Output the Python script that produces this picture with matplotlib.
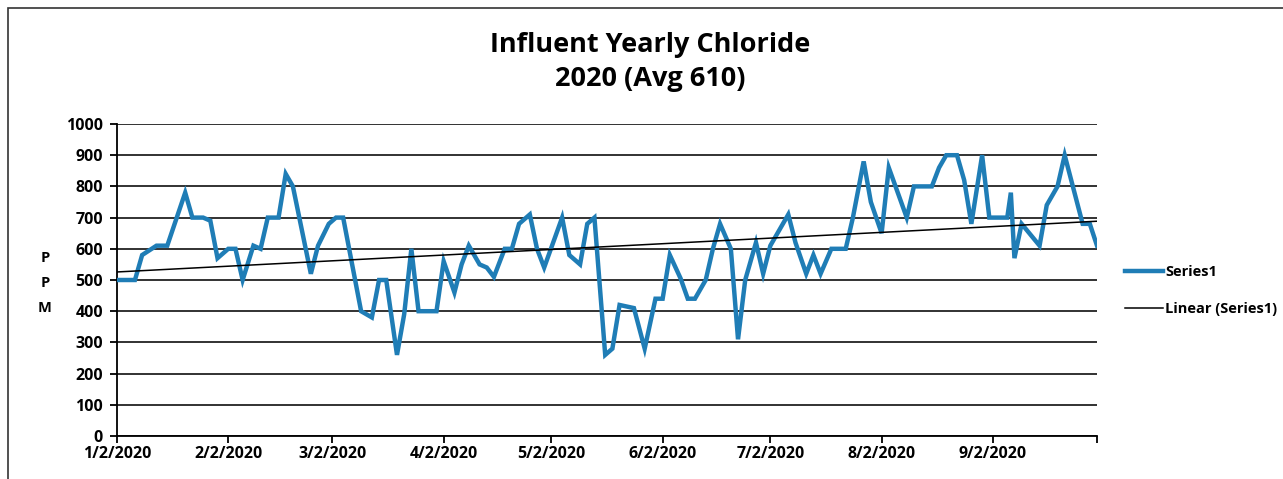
import matplotlib
matplotlib.use("Agg")
import matplotlib.pyplot as plt
import matplotlib.dates as mdates
from matplotlib.patches import Rectangle
import numpy as np
import pandas as pd

sample_dates = [
    "2020-01-02", "2020-01-07", "2020-01-09", "2020-01-13", "2020-01-16", "2020-01-21",
    "2020-01-23", "2020-01-26", "2020-01-28", "2020-01-30", "2020-02-02", "2020-02-04",
    "2020-02-06", "2020-02-09", "2020-02-11", "2020-02-13", "2020-02-16", "2020-02-18",
    "2020-02-20", "2020-02-25", "2020-02-27", "2020-03-01", "2020-03-03", "2020-03-05",
    "2020-03-10", "2020-03-13", "2020-03-15", "2020-03-17", "2020-03-20", "2020-03-22",
    "2020-03-24", "2020-03-26", "2020-03-31", "2020-04-02", "2020-04-05", "2020-04-07",
    "2020-04-09", "2020-04-12", "2020-04-14", "2020-04-16", "2020-04-19", "2020-04-21",
    "2020-04-23", "2020-04-26", "2020-04-28", "2020-04-30", "2020-05-05", "2020-05-07",
    "2020-05-10", "2020-05-12", "2020-05-14", "2020-05-17", "2020-05-19", "2020-05-21",
    "2020-05-25", "2020-05-28", "2020-05-31", "2020-06-02", "2020-06-04", "2020-06-07",
    "2020-06-09", "2020-06-11", "2020-06-14", "2020-06-16", "2020-06-18", "2020-06-21",
    "2020-06-23", "2020-06-25", "2020-06-28", "2020-06-30", "2020-07-02", "2020-07-04",
    "2020-07-07", "2020-07-09", "2020-07-12", "2020-07-14", "2020-07-16", "2020-07-19",
    "2020-07-23", "2020-07-25", "2020-07-28", "2020-07-30", "2020-08-02", "2020-08-04",
    "2020-08-09", "2020-08-11", "2020-08-16", "2020-08-18", "2020-08-20", "2020-08-23",
    "2020-08-25", "2020-08-27", "2020-08-30", "2020-09-01", "2020-09-06", "2020-09-07",
    "2020-09-08", "2020-09-10", "2020-09-15", "2020-09-17", "2020-09-20", "2020-09-22",
    "2020-09-27", "2020-09-29", "2020-10-01",
]
chloride_ppm = [
    500, 500, 580, 610, 610, 780,
    700, 700, 690, 570, 600, 600,
    500, 610, 600, 700, 700, 840,
    800, 520, 610, 680, 700, 700,
    400, 380, 500, 500, 260, 390,
    600, 400, 400, 560, 460, 550,
    610, 550, 540, 510, 600, 600,
    680, 710, 600, 540, 700, 580,
    550, 680, 700, 260, 280, 420,
    410, 280, 440, 440, 580, 505,
    440, 440, 500, 600, 680, 600,
    310, 500, 620, 520, 610, 650,
    710, 620, 520, 580, 520, 600,
    600, 700, 880, 750, 650, 860,
    700, 800, 800, 860, 900, 900,
    820, 680, 900, 700, 700, 780,
    570, 680, 610, 740, 800, 900,
    680, 680, 610,
]
tick_labels = ["1/2/2020", "2/2/2020", "3/2/2020", "4/2/2020", "5/2/2020",
               "6/2/2020", "7/2/2020", "8/2/2020", "9/2/2020"]
y_ticks = list(range(0, 1001, 100))

title_text = "Influent Yearly Chloride\n2020 (Avg 610)"
series_name = "Series1"
trend_name = "Linear (Series1)"

FONT = ["Open Sans", "DejaVu Sans"]
plt.rcParams["font.family"] = FONT

dates = pd.to_datetime(sample_dates)
x_num = mdates.date2num(dates)

fig = plt.figure(figsize=(12.83, 4.79), dpi=100)
fig.patches.append(Rectangle((8 / 1283, -0.1), 1.2, 1 - 8 / 479 + 0.1,
                             transform=fig.transFigure, fill=False,
                             edgecolor="#333333", linewidth=1.2))

ax = fig.add_axes([117 / 1283, (479 - 436) / 479, 980 / 1283, 312 / 479])

line_color = "#1F7DB6"
ax.plot(x_num, chloride_ppm, color=line_color, linewidth=3.2, solid_joinstyle="miter",
        label=series_name, zorder=3)

coef = np.polyfit(x_num, chloride_ppm, 1)
trend = np.polyval(coef, x_num)
ax.plot(x_num, trend, color="black", linewidth=1.1, label=trend_name, zorder=4)

ax.set_xlim(x_num[0], x_num[-1])
ax.set_ylim(0, 1000)
ax.set_yticks(y_ticks)
ax.grid(axis="y", color="#222222", linewidth=1.3)
ax.set_axisbelow(True)

tick_pos = mdates.date2num(pd.to_datetime(tick_labels, format="%m/%d/%Y"))
ax.set_xticks(list(tick_pos) + [x_num[-1]])
ax.set_xticklabels(tick_labels + [""], fontsize=11.5, fontweight="bold")
for lab in ax.get_yticklabels():
    lab.set_fontsize(11.5)
    lab.set_fontweight("bold")

ax.tick_params(axis="x", direction="out", length=5, width=1.3, color="black", pad=2)
ax.tick_params(axis="y", direction="out", length=5, width=1.3, color="black", pad=5)
for s in ["top", "right"]:
    ax.spines[s].set_visible(False)
ax.spines["left"].set_linewidth(1.3)
ax.spines["bottom"].set_linewidth(1.3)

fig.text(650 / 1283, 1 - 62 / 479, title_text, ha="center", va="center",
         fontsize=19.5, fontweight="bold", linespacing=1.4)

for i, ch in enumerate("PPM"):
    fig.text(45 / 1283, 1 - (258 + 25 * i) / 479, ch, ha="center", va="center",
             fontsize=10.5, fontweight="bold")

leg = ax.legend(loc="center left", bbox_to_anchor=(1.015, 0.466), frameon=False,
                prop={"weight": "bold", "size": 10.5}, handlelength=2.6,
                handletextpad=0.15, labelspacing=1.6)

fig.savefig("out.png", dpi=100)
